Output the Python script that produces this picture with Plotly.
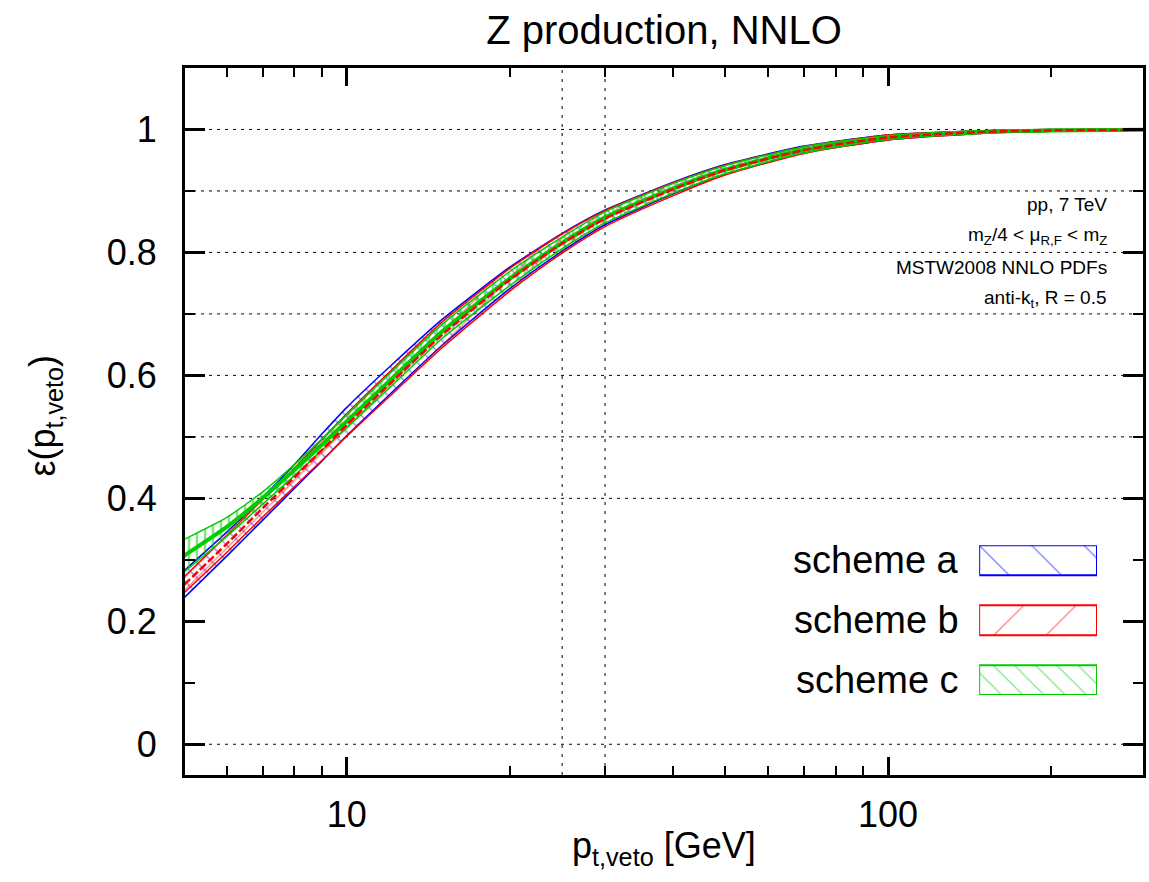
import plotly.graph_objects as go

# ---------------- data ----------------
pt_veto = [5, 6, 7, 8, 9, 10, 12, 15, 20, 25, 30, 40, 50, 70, 100, 150, 200, 300]

scheme_a_low = [0.238, 0.306, 0.365, 0.416, 0.461, 0.502, 0.569, 0.649, 0.741, 0.802,
                0.845, 0.895, 0.927, 0.962, 0.983, 0.994, 0.997, 0.999]
scheme_a_high = [0.282, 0.345, 0.402, 0.455, 0.505, 0.548, 0.614, 0.691, 0.776, 0.831,
                 0.869, 0.914, 0.943, 0.973, 0.991, 0.998, 1.000, 1.000]

scheme_b_low = [0.246, 0.312, 0.370, 0.419, 0.462, 0.501, 0.566, 0.645, 0.737, 0.799,
                0.842, 0.892, 0.926, 0.961, 0.983, 0.994, 0.997, 0.999]
scheme_b_high = [0.272, 0.340, 0.399, 0.449, 0.496, 0.538, 0.606, 0.687, 0.774, 0.830,
                 0.868, 0.913, 0.942, 0.972, 0.991, 0.998, 1.000, 1.000]

scheme_c_low = [0.280, 0.338, 0.391, 0.437, 0.478, 0.515, 0.580, 0.660, 0.746, 0.806,
                0.848, 0.896, 0.928, 0.962, 0.984, 0.994, 0.997, 0.999]
scheme_c_high = [0.333, 0.369, 0.411, 0.455, 0.497, 0.536, 0.603, 0.683, 0.769, 0.825,
                 0.866, 0.912, 0.941, 0.972, 0.990, 0.998, 1.000, 1.000]

scheme_names = ["scheme a", "scheme b", "scheme c"]

x_major = [10, 100]
x_major_labels = ["10", "100"]
x_minor = [6, 7, 8, 9, 20, 30, 40, 50, 60, 70, 80, 90, 200]
y_major = [0, 0.2, 0.4, 0.6, 0.8, 1.0]
y_major_labels = ["0", "0.2", "0.4", "0.6", "0.8", "1"]
y_minor = [0.1, 0.3, 0.5, 0.7, 0.9]
h_grid = [0, 0.4, 0.5, 0.6, 0.7, 0.8, 0.9, 1.0]
v_grid = [25, 30]

info_lines = ["pp, 7 TeV",
              "m<sub>Z</sub>/4 < μ<sub>R,F</sub> < m<sub>Z</sub>",
              "MSTW2008 NNLO PDFs",
              "anti-k<sub>t</sub>, R = 0.5"]
info_y = [0.878, 0.826, 0.776, 0.724]

# ---------------- style ----------------
FONT = "Liberation Sans, Arial, Helvetica, sans-serif"
BLUE = "#0000ff"
RED = "#ff0000"
GREEN = "#00cc00"
SMOOTH = 0.6

styles = [
    dict(color=BLUE, shape="\\", size=11, solidity=0.12),
    dict(color=RED, shape="/", size=9, solidity=0.14),
    dict(color=GREEN, shape="|", size=8, solidity=0.3),
]
bands = [(scheme_a_low, scheme_a_high), (scheme_b_low, scheme_b_high),
         (scheme_c_low, scheme_c_high)]

fig = go.Figure()

for (low, high), st, name in zip(bands, styles, scheme_names):
    fig.add_trace(go.Scatter(x=pt_veto, y=low, mode="lines",
                             line=dict(color=st["color"], width=1.5, shape="spline",
                                       smoothing=SMOOTH),
                             showlegend=False, hoverinfo="skip"))
    fig.add_trace(go.Scatter(x=pt_veto, y=high, mode="lines", fill="tonexty",
                             line=dict(color=st["color"], width=1.5, shape="spline",
                                       smoothing=SMOOTH),
                             fillcolor="rgba(0,0,0,0)",
                             fillpattern=dict(shape=st["shape"], fgcolor=st["color"],
                                              size=st["size"], solidity=st["solidity"]),
                             name=name, showlegend=False, hoverinfo="skip"))

# central lines
center_b = [(a + b) / 2 for a, b in zip(scheme_b_low, scheme_b_high)]
center_c = [(a + b) / 2 for a, b in zip(scheme_c_low, scheme_c_high)]
fig.add_trace(go.Scatter(x=pt_veto, y=center_c, mode="lines",
                         line=dict(color=GREEN, width=4, shape="spline", smoothing=SMOOTH),
                         showlegend=False, hoverinfo="skip"))
fig.add_trace(go.Scatter(x=pt_veto, y=center_b, mode="lines",
                         line=dict(color=RED, width=2.5, dash="8px,3px", shape="spline",
                                   smoothing=SMOOTH),
                         showlegend=False, hoverinfo="skip"))

# ---------------- custom legend (text left, hatched swatch right) ----------------
LEG_X = [0.829, 0.952]
LEG_Y = [0.113, 0.325]
LEG_UNITS = 5
legend_rows = [4, 2, 0]
legend_styles = [
    dict(color=BLUE, shape="\\", size=37, solidity=0.035),
    dict(color=RED, shape="/", size=37, solidity=0.035),
    dict(color=GREEN, shape="\\", size=15, solidity=0.08),
]
for r, st, name in zip(legend_rows, legend_styles, scheme_names):
    fig.add_trace(go.Scatter(x=[0, 1, 1, 0, 0], y=[r, r, r + 1, r + 1, r],
                             xaxis="x2", yaxis="y2", mode="lines", fill="toself",
                             fillcolor="rgba(0,0,0,0)",
                             fillpattern=dict(shape=st["shape"], fgcolor=st["color"],
                                              size=st["size"], solidity=st["solidity"]),
                             line=dict(color=st["color"], width=2),
                             showlegend=False, hoverinfo="skip"))
    y_paper = LEG_Y[0] + (r + 0.5) / LEG_UNITS * (LEG_Y[1] - LEG_Y[0])
    fig.add_annotation(x=LEG_X[0] - 0.019, y=y_paper, xref="paper", yref="paper",
                       text=name, showarrow=False, xanchor="right", yanchor="middle",
                       font=dict(family=FONT, size=38, color="black"))

# ---------------- grid ----------------
for g in h_grid:
    fig.add_shape(type="line", xref="x domain", yref="y", x0=0, x1=1, y0=g, y1=g,
                  line=dict(color="black", width=1, dash="3px,5px"), layer="below")
for g in v_grid:
    fig.add_shape(type="line", xref="x", yref="y domain", x0=g, x1=g, y0=0, y1=1,
                  line=dict(color="#555555", width=1.5, dash="3px,6px"), layer="below")

# ---------------- text ----------------
for t, yy in zip(info_lines, info_y):
    fig.add_annotation(x=0.9646, y=yy, xref="paper", yref="y", text=t, showarrow=False,
                       xanchor="right", yanchor="middle",
                       font=dict(family=FONT, size=19, color="black"))

fig.add_annotation(x=0.5, y=-0.103, xref="paper", yref="paper",
                   text="p<sub>t,veto</sub> [GeV]", showarrow=False,
                   xanchor="center", yanchor="middle",
                   font=dict(family=FONT, size=36, color="black"))
fig.add_annotation(x=-0.1457, y=0.509, xref="paper", yref="paper",
                   text="ε(p<sub>t,veto</sub>)", showarrow=False, textangle=-90,
                   xanchor="center", yanchor="middle",
                   font=dict(family=FONT, size=36, color="black"))

fig.update_layout(
    width=1149, height=882,
    margin=dict(l=185, r=3, t=68, b=107),
    paper_bgcolor="white", plot_bgcolor="white",
    title=dict(text="Z production, NNLO", x=0.5, xref="paper", xanchor="center",
               y=0.966, yref="container", yanchor="middle",
               font=dict(family=FONT, size=40, color="black")),
    showlegend=False,
    xaxis=dict(type="log", range=[0.701, 2.471],
               showgrid=False, zeroline=False,
               showline=True, linecolor="black", linewidth=3, mirror="allticks",
               ticks="inside", ticklen=18, tickwidth=2.5, tickcolor="black",
               tickmode="array", tickvals=x_major, ticktext=x_major_labels,
               ticklabelstandoff=6,
               tickfont=dict(family=FONT, size=36, color="black"),
               minor=dict(ticks="inside", ticklen=9, tickwidth=2, tickcolor="black",
                          tickmode="array", tickvals=x_minor, showgrid=False)),
    yaxis=dict(range=[-0.05, 1.1], showgrid=False, zeroline=False,
               showline=True, linecolor="black", linewidth=3, mirror="allticks",
               ticks="inside", ticklen=20, tickwidth=2.5, tickcolor="black",
               tickmode="array", tickvals=y_major, ticktext=y_major_labels,
               ticklabelstandoff=18,
               tickfont=dict(family=FONT, size=36, color="black"),
               minor=dict(ticks="inside", ticklen=10, tickwidth=2, tickcolor="black",
                          tickmode="array", tickvals=y_minor, showgrid=False)),
    xaxis2=dict(domain=LEG_X, range=[0, 1], anchor="y2", visible=False,
                fixedrange=True),
    yaxis2=dict(domain=LEG_Y, range=[0, LEG_UNITS], anchor="x2", visible=False,
                fixedrange=True),
)

fig.write_html("out.html")
